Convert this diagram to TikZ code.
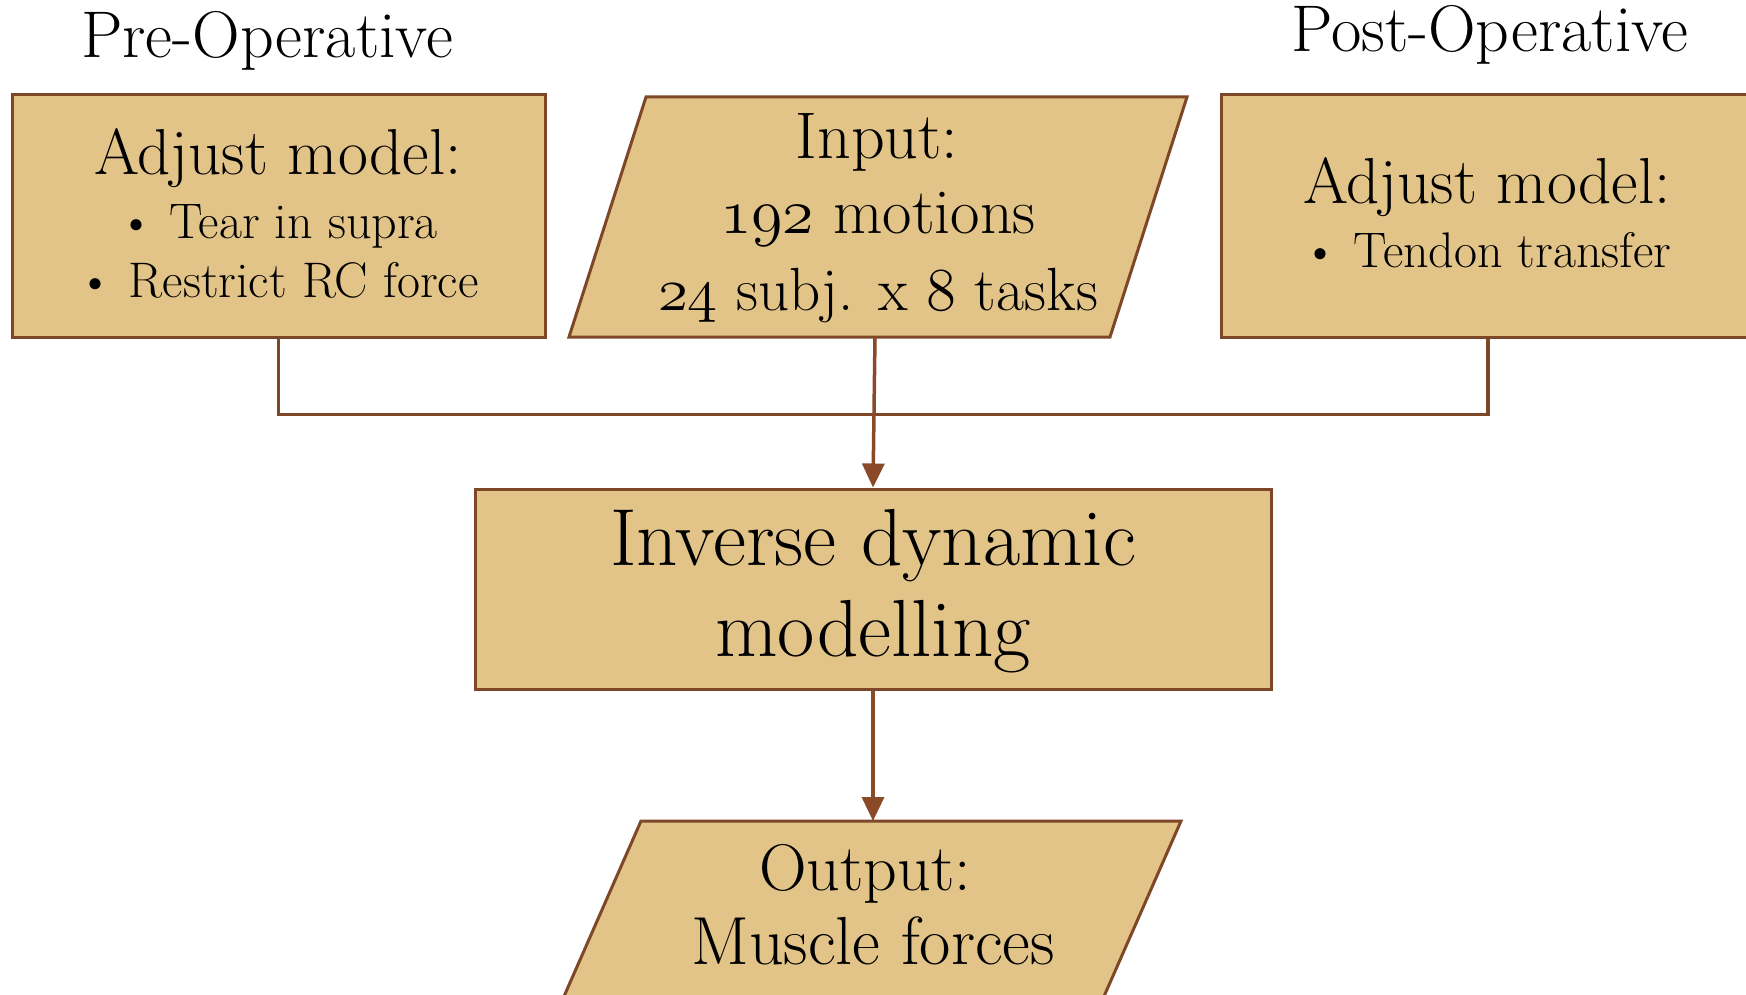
\documentclass[tikz,border=0pt]{standalone}
\usepackage{fontspec}
\usetikzlibrary{arrows.meta}
\definecolor{tanfill}{RGB}{226,196,136}
\definecolor{brd}{RGB}{126,72,40}
\definecolor{arrc}{RGB}{138,74,40}
\tikzset{
  shapebox/.style={draw=brd, fill=tanfill, line width=3pt},
  conn/.style={draw=brd, line width=3.5pt},
  arr/.style={draw=arrc, line width=3.5pt, -{Triangle[length=24pt,width=22pt]}},
  txt/.style={anchor=base, inner sep=0pt, text=black},
}
\DeclareFontFamily{OML}{osnfam}{\skewchar\font=127}
\DeclareFontShape{OML}{osnfam}{m}{it}{<-> cmmi12}{}
\newcommand{\fs}[1]{\fontsize{#1}{#1}\selectfont}
\newcommand{\osn}[1]{{\fontencoding{OML}\fontfamily{osnfam}\fontseries{m}\fontshape{it}\selectfont #1}}
\begin{document}
\begin{tikzpicture}[x=1pt,y=-1pt]
\useasboundingbox (0,0) rectangle (1746,995);
\clip (0,0) rectangle (1746,995);
% headings
\node[txt] (preh) at (267,58) {\fs{66}Pre-Operative};
\node[txt] (posth) at (1490,52) {\fs{66}Post-Operative};
% boxes
\node[shapebox, minimum width=533pt, minimum height=242pt, inner sep=0pt] (pre) at (278.5,216) {};
\node[shapebox, minimum width=534pt, minimum height=242pt, inner sep=0pt] (post) at (1488,216) {};
\draw[shapebox] (646,97) -- (1187,97) -- (1110,337) -- (569,337) -- cycle;
\coordinate (inbot) at (875,337);
\node[shapebox, minimum width=796pt, minimum height=200pt, inner sep=0pt] (mid) at (873,589) {};
\draw[shapebox] (641,821) -- (1181,821) -- (1098,1010) -- (558,1010) -- cycle;
\coordinate (outtop) at (873,821);
% texts
\node[txt] (pre1) at (278,175) {\fs{65}Adjust model:};
\node[txt] (pre2) at (278,239) {\fs{50}\textbullet\ Tear in supra};
\node[txt] (pre3) at (278,298) {\fs{50}\textbullet\ Restrict RC force};
\node[txt] (in1) at (877,159) {\fs{66}Input:};
\node[txt] (in2) at (878,234) {\fs{64}\osn{192} motions};
\node[txt] (in3) at (878,310) {\fs{61}\osn{24} subj. x \osn{8} tasks};
\node[txt] (post1) at (1487,204) {\fs{65}Adjust model:};
\node[txt] (post2) at (1487,268) {\fs{50}\textbullet\ Tendon transfer};
\node[txt] (mid1) at (873,565) {\fs{81}Inverse dynamic};
\node[txt] (mid2) at (873,656) {\fs{81}modelling};
\node[txt] (out1) at (865,890) {\fs{66}Output:};
\node[txt] (out2) at (873,964) {\fs{68}Muscle forces};
% connectors
\draw[conn] (pre.south) -- ++(0,76) -| (post.south);
\draw[arr] (inbot) -- (mid.north);
\draw[arr] (mid.south) -- (outtop);
\end{tikzpicture}
\end{document}
